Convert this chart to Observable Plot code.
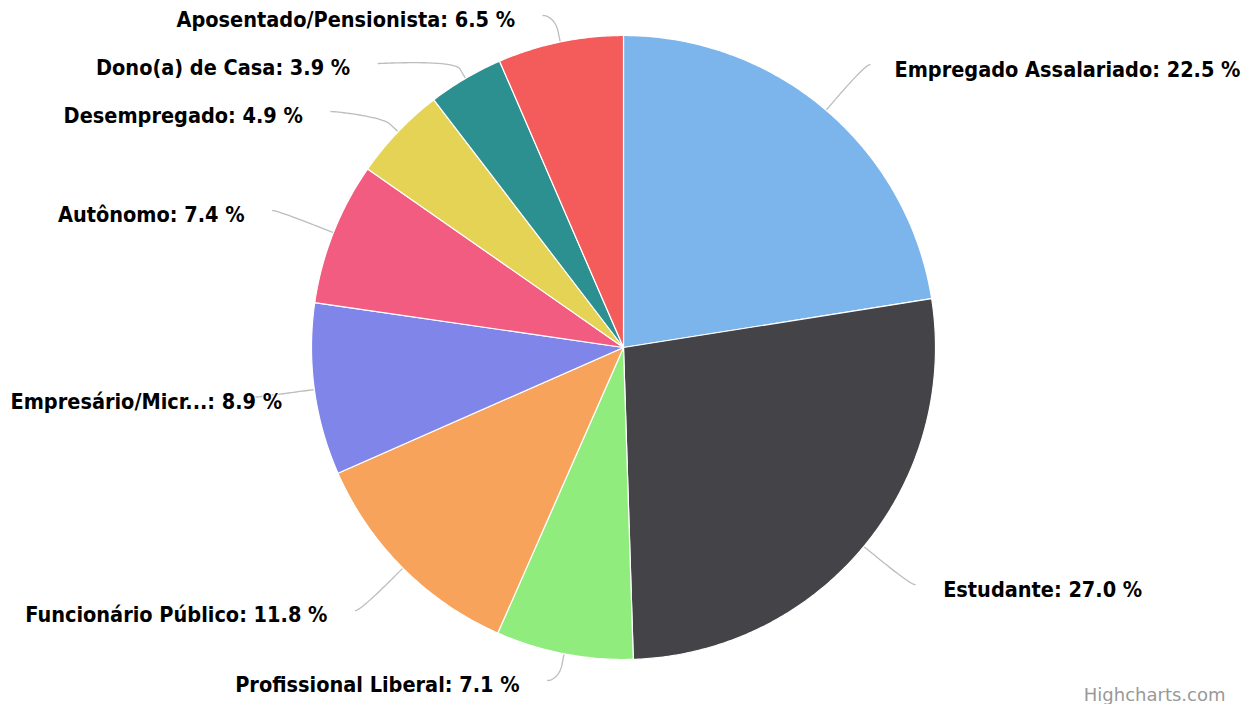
<!DOCTYPE html>
<html><head><meta charset="utf-8">
<script src="https://cdn.jsdelivr.net/npm/d3@7"></script>
<script src="https://cdn.jsdelivr.net/npm/@observablehq/plot@0.6"></script>
<style>body{margin:0;background:#fff}#chart svg{display:block}</style>
</head><body><div id="chart"></div>
<script>
// ---- data ----
const categories = ["Empregado Assalariado","Estudante","Profissional Liberal","Funcionário Público","Empresário/Micr...","Autônomo","Desempregado","Dono(a) de Casa","Aposentado/Pensionista"];
const shares = [22.5, 27.0, 7.1, 11.8, 8.9, 7.4, 4.9, 3.9, 6.5];
const colors = ["#7cb5ec","#434348","#90ed7d","#f7a35c","#8085e9","#f15c80","#e4d354","#2b908f","#f45b5b"];
const credit = "Highcharts.com";

// ---- layout ----
const W = 1250, H = 704;
const cx = 623, cy = 347, R = 312;
const LD = 60, RL = R + LD;          // label distance
const TOP = 15, BOTTOM = 680, SLOT = 48, GAP = 28, EDGE = 10;
const FONT = "DejaVu Sans Condensed", FS = 21.5;
const BREAK = Math.min(11, LD / 5);

const total = d3.sum(shares);
const slices = [];
let acc = 0;
categories.forEach((name, i) => {
  const a0 = acc / total * 2 * Math.PI;
  acc += shares[i];
  const a1 = acc / total * 2 * Math.PI;
  slices.push({name, value: shares[i], a0, a1, mid: (a0 + a1) / 2});
});
const pt = (a, r) => [cx + r * Math.sin(a), cy - r * Math.cos(a)];

// slice polygons
const polys = [];
slices.forEach(s => {
  polys.push({name: s.name, x: cx, y: cy});
  const n = Math.max(2, Math.ceil((s.a1 - s.a0) / (Math.PI / 360)));
  for (let k = 0; k <= n; k++) {
    const [x, y] = pt(s.a0 + (s.a1 - s.a0) * k / n, R);
    polys.push({name: s.name, x, y});
  }
});

// label positions (Highcharts-like distribution)
slices.forEach(s => { s.side = s.mid < Math.PI ? 1 : -1; s.ny = cy - RL * Math.cos(s.mid); });
function distribute(arr) {
  arr.sort((a, b) => a.ny - b.ny);
  arr.forEach((s, i) => {
    let y = Math.max(TOP, Math.min(BOTTOM, s.ny));
    if (i > 0) y = Math.max(y, arr[i - 1].y + SLOT);
    s.y = y;
  });
  for (let i = arr.length - 1; i >= 0; i--) {
    const lim = i === arr.length - 1 ? BOTTOM : arr[i + 1].y - SLOT;
    arr[i].y = Math.min(arr[i].y, lim);
  }
}
distribute(slices.filter(s => s.side === 1));
distribute(slices.filter(s => s.side === -1));

const ctx = document.createElement("canvas").getContext("2d");
ctx.font = `bold ${FS}px "${FONT}"`;
const labels = [];
const connectors = [];
slices.forEach(s => {
  const yy = (s.ny < TOP || s.ny > BOTTOM) ? s.ny : s.y;
  const sn = Math.max(-1, Math.min(1, (yy - cy) / RL));
  const x = cx + s.side * (RL * Math.cos(Math.asin(sn)) + 5);
  const text = `${s.name}: ${s.value.toFixed(1)} %`;
  const w = ctx.measureText(text).width;
  let tx = x + s.side * GAP;
  if (s.side === -1 && tx - w < EDGE) tx = EDGE + w;
  if (s.side === 1 && tx + w > W - EDGE) tx = W - EDGE - w;
  labels.push({text, x: tx, y: s.y + 5, side: s.side});
  // connector: soft bezier to break point, then straight to slice edge
  const [tX, tY] = pt(s.mid, R);
  const [bX, bY] = pt(s.mid, R + BREAK);
  const P0 = [x, s.y], P1 = [x - s.side * 5, s.y], P2 = [2 * bX - tX, 2 * bY - tY], P3 = [bX, bY];
  for (let k = 0; k <= 24; k++) {
    const t = k / 24, u = 1 - t;
    connectors.push({name: s.name,
      x: u*u*u*P0[0] + 3*u*u*t*P1[0] + 3*u*t*t*P2[0] + t*t*t*P3[0],
      y: u*u*u*P0[1] + 3*u*u*t*P1[1] + 3*u*t*t*P2[1] + t*t*t*P3[1]});
  }
  connectors.push({name: s.name, x: tX, y: tY});
});

const chart = Plot.plot({
  width: W, height: H, margin: 0,
  x: {domain: [0, W], range: [0, W], axis: null},
  y: {domain: [0, H], range: [0, H], axis: null},
  color: {domain: categories, range: colors},
  style: {fontFamily: FONT, background: "#fff"},
  marks: [
    Plot.line(connectors, {x: "x", y: "y", z: "name", stroke: "#bdbdbd", strokeWidth: 1.3}),
    Plot.line(polys, {x: "x", y: "y", z: "name", fill: "name", stroke: "#ffffff", strokeWidth: 1.2, strokeLinejoin: "round", curve: "linear-closed"}),
    Plot.text(labels.filter(d => d.side === 1), {x: "x", y: "y", text: "text", textAnchor: "start", fontSize: FS, fontWeight: "bold", fill: "#000", stroke: "#fff", strokeWidth: 2}),
    Plot.text(labels.filter(d => d.side === -1), {x: "x", y: "y", text: "text", textAnchor: "end", fontSize: FS, fontWeight: "bold", fill: "#000", stroke: "#fff", strokeWidth: 2}),
    Plot.text([credit], {frameAnchor: "bottom-right", text: d => d, textAnchor: "end", lineAnchor: "bottom", dx: -25, dy: -4, fontSize: 18, fontFamily: "DejaVu Sans", fill: "#999999"})
  ]
});
document.getElementById("chart").appendChild(chart);
</script>
</body></html>
